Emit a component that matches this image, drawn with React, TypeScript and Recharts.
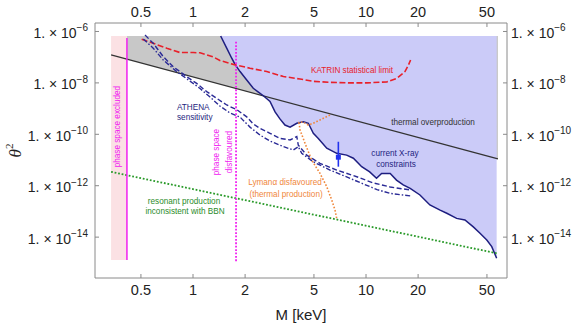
import {
  ComposedChart,
  Line,
  Area,
  Scatter,
  ErrorBar,
  XAxis,
  YAxis,
  ReferenceDot,
  Label,
} from 'recharts'

const FONT = '"Liberation Sans", Arial, sans-serif'
const AXIS_COLOR = '#8a8a8a'
const NAVY = '#1e1e80'

// x: sterile neutrino mass M [keV], y: log10(theta^2)
const mTicks = [0.5, 1, 2, 5, 10, 20, 50]
const mTickLabels = ['0.5', '1', '2', '5', '10', '20', '50']
const thetaTicks = [-6, -8, -10, -12, -14]
const mRange = [0.2713, 65.3]
const thetaRange = [-15.59, -5.67]

const regionTop = -6.175

// current X-ray constraints (lower edge of the shaded region)
const xrayM = [1.445, 1.566, 1.674, 1.749, 1.87, 2.044, 2.23, 2.376, 2.55, 2.786, 2.98, 3.18, 3.4, 3.64, 3.98, 4.34, 4.64, 4.96, 5.3, 5.93, 6.77, 7.73, 8.45, 9.44, 10.5, 11.5, 12.3, 13.8, 15.0, 16.4, 18.0, 20.5, 23.4, 26.8, 29.3, 33.4, 37.3, 41.7, 45.6, 49.9, 53.3, 56.9]
const xrayLogTheta2 = [-6.175, -6.65, -7.04, -7.28, -7.56, -7.89, -8.21, -8.35, -8.5, -8.72, -9.13, -9.4, -9.64, -9.72, -9.57, -9.51, -9.57, -9.96, -10.16, -10.54, -10.74, -10.81, -10.93, -11.26, -11.46, -11.71, -11.52, -11.52, -11.78, -11.97, -12.1, -12.36, -12.75, -12.95, -13.07, -13.27, -13.33, -13.6, -13.85, -14.11, -14.37, -14.82]

// KATRIN statistical limit
const katrinM = [0.505, 0.589, 0.705, 0.841, 1.004, 1.098, 1.2, 1.31, 1.43, 1.71, 2.135, 2.667, 3.33, 4.155, 4.96, 6.19, 8.08, 10.1, 13.2, 15.1, 16.8, 17.6, 18.1]
const katrinLogTheta2 = [-6.3, -6.46, -6.65, -6.82, -6.82, -6.83, -6.91, -6.99, -7.13, -7.28, -7.43, -7.56, -7.75, -7.85, -7.94, -7.98, -8.0, -8.0, -7.96, -7.82, -7.56, -7.3, -7.11]

// ATHENA sensitivity (two curves)
const athenaDashM = [0.528, 0.589, 0.673, 0.769, 0.92, 1.05, 1.2, 1.37, 1.566, 1.789, 2.044, 2.23, 2.44, 2.786, 3.18, 3.64, 3.98, 4.06, 4.54, 5.42, 6.77, 8.84, 11.0, 13.8, 18.2]
const athenaDashLogTheta2 = [-6.14, -6.46, -6.98, -7.37, -7.76, -8.02, -8.34, -8.6, -8.86, -9.04, -9.32, -9.6, -9.77, -9.96, -10.16, -10.22, -10.09, -10.42, -10.81, -11.13, -11.39, -11.65, -11.89, -12.05, -12.17]
const athenaDotM = [0.516, 0.589, 0.673, 0.805, 0.961, 1.098, 1.254, 1.43, 1.636, 1.87, 2.135, 2.44, 2.786, 3.33, 3.8, 4.06, 4.25, 4.96, 6.19, 7.73, 9.65, 11.58, 13.8, 18.2]
const athenaDotLogTheta2 = [-6.29, -6.65, -7.11, -7.56, -7.93, -8.22, -8.55, -8.9, -9.17, -9.33, -9.72, -10.03, -10.26, -10.48, -10.61, -10.48, -10.74, -11.07, -11.39, -11.66, -11.93, -12.15, -12.3, -12.4]

// thermal overproduction and the grey band above it
const thermalM = [0.336, 57.9]
const thermalLogTheta2 = [-6.91, -10.96]
const greyM = [0.415, 57.9]
const greyLogTheta2 = [-7.08, -10.96]

// resonant production inconsistent with BBN
const bbnM = [0.336, 56.9]
const bbnLogTheta2 = [-11.46, -14.63]

// Lyman-alpha (thermal production)
const lymanM = [6.19, 5.42, 4.96, 4.64, 4.32, 4.1, 4.155, 4.44, 4.85, 5.42, 5.93, 6.34, 6.62, 6.77]
const lymanLogTheta2 = [-9.25, -9.44, -9.57, -9.64, -9.52, -9.54, -9.83, -10.35, -11.0, -11.52, -12.04, -12.56, -12.95, -13.28]

// phase space bounds
const excludedM = [0.336, 0.415]
const excludedLogTheta2 = [-14.89, -14.89]
const tremaineM = [0.415, 0.415]
const tremaineLogTheta2 = [-6.25, -14.89]
const disfavouredM = [1.773, 1.773]
const disfavouredLogTheta2 = [-6.4, -14.96]

// 3.5 keV line
const lineM = [6.92]
const lineLogTheta2 = [-10.89]
const lineLow = [-11.26]
const lineHigh = [-10.29]

const rows = (ms: number[], ts: number[]) => ms.map((m, i) => ({ m: Math.log10(m), t: ts[i] }))
const lineRows = lineM.map((m, i) => ({
  m: Math.log10(m),
  t: lineLogTheta2[i],
  err: [lineLogTheta2[i] - lineLow[i], lineHigh[i] - lineLogTheta2[i]],
}))

const notes = [
  { text: 'KATRIN statistical limit', m: 8.3, t: -7.5, color: '#e8202a' },
  { text: 'ATHENA', m: 0.808, t: -8.94, color: NAVY, anchor: 'start' },
  { text: 'sensitivity', m: 0.808, t: -9.33, color: NAVY, anchor: 'start' },
  { text: 'thermal overproduction', m: 24.4, t: -9.55, color: '#333' },
  { text: 'current X-ray', m: 14.7, t: -10.73, color: NAVY },
  { text: 'constraints', m: 14.9, t: -11.19, color: NAVY },
  { text: 'Lymanα disfavoured', m: 3.4, t: -11.89, color: '#f0873c' },
  { text: '(thermal production)', m: 3.45, t: -12.36, color: '#f0873c' },
  { text: 'resonant production', m: 0.887, t: -12.6, color: '#2a8c2a' },
  { text: 'inconsistent with BBN', m: 0.899, t: -13.02, color: '#2a8c2a' },
  { text: 'phase space excluded', m: 0.364, t: -9.7, color: '#f020f0', rotate: true },
  { text: 'phase space', m: 1.376, t: -10.69, color: '#f020f0', rotate: true },
  { text: 'disfavoured', m: 1.626, t: -10.69, color: '#f020f0', rotate: true },
]

function BottomTick({ x, y, index }: any) {
  return (
    <g>
      <line x1={x} x2={x} y1={y - 12} y2={y - 16} stroke={AXIS_COLOR} />
      <text x={x} y={y} dy={5} textAnchor="middle" fontSize={14.5} fill="#222" fontFamily={FONT}>
        {mTickLabels[index]}
      </text>
    </g>
  )
}

function TopTick({ x, y, index }: any) {
  return (
    <g>
      <line x1={x} x2={x} y1={y + 11} y2={y + 15} stroke={AXIS_COLOR} />
      <text x={x} y={y} dy={5} textAnchor="middle" fontSize={14.5} fill="#222" fontFamily={FONT}>
        {mTickLabels[index]}
      </text>
    </g>
  )
}

function PowerText({ x, y, value, anchor }: any) {
  return (
    <text x={x} y={y} dy={6.5} textAnchor={anchor} fontSize={14} fill="#222" fontFamily={FONT}>
      1. × 10
      <tspan dy={-6.5} fontSize={10}>
        {'\u2212' + Math.abs(value)}
      </tspan>
    </text>
  )
}

function LeftTick({ x, y, payload }: any) {
  return (
    <g>
      <line x1={x + 7} x2={x + 11} y1={y} y2={y} stroke={AXIS_COLOR} />
      <PowerText x={x} y={y} value={payload.value} anchor="end" />
    </g>
  )
}

function RightTick({ x, y, payload }: any) {
  return (
    <g>
      <line x1={x - 4} x2={x - 8} y1={y} y2={y} stroke={AXIS_COLOR} />
      <PowerText x={x} y={y} value={payload.value} anchor="start" />
    </g>
  )
}

function renderNote(n: (typeof notes)[number]) {
  const anchor = (n as any).anchor ?? 'middle'
  const rotate = (n as any).rotate
  return (
    <ReferenceDot
      key={n.text}
      x={Math.log10(n.m)}
      y={n.t}
      r={0}
      shape={(p: any) => (
        <text
          x={p.cx}
          y={p.cy}
          fill={n.color}
          fontSize={8.2}
          fontFamily={FONT}
          textAnchor={anchor}
          dominantBaseline="central"
          transform={rotate ? `rotate(-90 ${p.cx} ${p.cy})` : undefined}
        >
          {n.text}
        </text>
      )}
    />
  )
}

export default function App() {
  const xDomain = [Math.log10(mRange[0]), Math.log10(mRange[1])]
  const xTicks = mTicks.map((m) => Math.log10(m))

  return (
    <div style={{ position: 'absolute', left: 0, top: 0, width: 581, height: 323, background: '#fff', fontFamily: FONT }}>
      <ComposedChart width={581} height={323} margin={{ top: 0, right: 0, bottom: 0, left: 0 }}>
        <XAxis
          xAxisId={0}
          type="number"
          dataKey="m"
          orientation="bottom"
          domain={xDomain}
          allowDataOverflow
          ticks={xTicks}
          interval={0}
          height={45}
          tickSize={0}
          tickMargin={12}
          tickLine={false}
          axisLine={{ stroke: AXIS_COLOR }}
          tick={BottomTick}
        >
          <Label value="M [keV]" position="insideBottom" offset={3} fontSize={15} fill="#222" />
        </XAxis>
        <XAxis
          xAxisId="top"
          type="number"
          dataKey="m"
          orientation="top"
          domain={xDomain}
          allowDataOverflow
          ticks={xTicks}
          interval={0}
          height={23}
          tickSize={0}
          tickMargin={11}
          tickLine={false}
          axisLine={{ stroke: AXIS_COLOR }}
          tick={TopTick}
        />
        <YAxis
          yAxisId={0}
          type="number"
          dataKey="t"
          orientation="left"
          domain={thetaRange}
          allowDataOverflow
          ticks={thetaTicks}
          interval={0}
          width={95}
          tickSize={0}
          tickMargin={7}
          tickLine={false}
          axisLine={{ stroke: AXIS_COLOR }}
          tick={LeftTick}
          label={{
            content: ({ viewBox }: any) => {
              const cx = viewBox.x + 15
              const cy = viewBox.y + viewBox.height / 2
              return (
                <text
                  x={cx}
                  y={cy}
                  textAnchor="middle"
                  dominantBaseline="central"
                  fontSize={17}
                  fill="#222"
                  fontFamily='"Liberation Serif", serif'
                  transform={`rotate(-90 ${cx} ${cy})`}
                >
                  <tspan fontStyle="italic">θ</tspan>
                  <tspan dy={-6} fontSize={11}>2</tspan>
                </text>
              )
            },
          }}
        />
        <YAxis
          yAxisId="right"
          type="number"
          dataKey="t"
          orientation="right"
          domain={thetaRange}
          allowDataOverflow
          ticks={thetaTicks}
          interval={0}
          width={74}
          tickSize={0}
          tickMargin={4}
          tickLine={false}
          axisLine={{ stroke: AXIS_COLOR }}
          tick={RightTick}
        />

        <Area
          data={rows(excludedM, excludedLogTheta2)}
          dataKey="t"
          baseValue={regionTop}
          stroke="none"
          fill="#fbe1e4"
          fillOpacity={1}
          isAnimationActive={false}
        />
        <Area
          data={rows(greyM, greyLogTheta2)}
          dataKey="t"
          baseValue={regionTop}
          stroke="none"
          fill="#c8c8c8"
          fillOpacity={1}
          isAnimationActive={false}
        />
        <Area
          data={rows(xrayM, xrayLogTheta2)}
          dataKey="t"
          baseValue={regionTop}
          stroke="none"
          fill="#cbcbf8"
          fillOpacity={1}
          isAnimationActive={false}
        />

        <Line
          data={rows(thermalM, thermalLogTheta2)}
          xAxisId="top"
          yAxisId="right"
          dataKey="t"
          stroke="#333"
          strokeWidth={1.3}
          dot={false}
          isAnimationActive={false}
        />
        <Line data={rows(xrayM, xrayLogTheta2)} dataKey="t" stroke={NAVY} strokeWidth={1.5} dot={false} isAnimationActive={false} />
        <Line
          data={rows(katrinM, katrinLogTheta2)}
          dataKey="t"
          stroke="#e8202a"
          strokeWidth={1.6}
          strokeDasharray="6 2.5"
          dot={false}
          isAnimationActive={false}
        />
        <Line
          data={rows(athenaDashM, athenaDashLogTheta2)}
          dataKey="t"
          stroke="#2a2a96"
          strokeWidth={1.4}
          strokeDasharray="5 2.5"
          dot={false}
          isAnimationActive={false}
        />
        <Line
          data={rows(athenaDotM, athenaDotLogTheta2)}
          dataKey="t"
          stroke="#2a2a96"
          strokeWidth={1.4}
          strokeDasharray="5 2 1.5 2"
          dot={false}
          isAnimationActive={false}
        />
        <Line
          data={rows(lymanM, lymanLogTheta2)}
          dataKey="t"
          stroke="#f0873c"
          strokeWidth={1.6}
          strokeDasharray="1.6 1.8"
          dot={false}
          isAnimationActive={false}
        />
        <Line
          data={rows(bbnM, bbnLogTheta2)}
          dataKey="t"
          stroke="#2a9a2a"
          strokeWidth={1.8}
          strokeDasharray="1.8 1.8"
          dot={false}
          isAnimationActive={false}
        />
        <Line
          data={rows(tremaineM, tremaineLogTheta2)}
          dataKey="t"
          stroke="#f020f0"
          strokeWidth={1.5}
          dot={false}
          isAnimationActive={false}
        />
        <Line
          data={rows(disfavouredM, disfavouredLogTheta2)}
          dataKey="t"
          stroke="#f020f0"
          strokeWidth={1.8}
          strokeDasharray="1.8 1.6"
          dot={false}
          isAnimationActive={false}
        />
        <Scatter
          data={lineRows}
          dataKey="t"
          fill="#2233ee"
          isAnimationActive={false}
          shape={(p: any) => <rect x={p.cx - 2.5} y={p.cy - 2.5} width={5} height={5} fill="#2233ee" />}
        >
          <ErrorBar dataKey="err" direction="y" width={0} stroke="#2233ee" strokeWidth={1.6} isAnimationActive={false} />
        </Scatter>

        {notes.map(renderNote)}
      </ComposedChart>
    </div>
  )
}
